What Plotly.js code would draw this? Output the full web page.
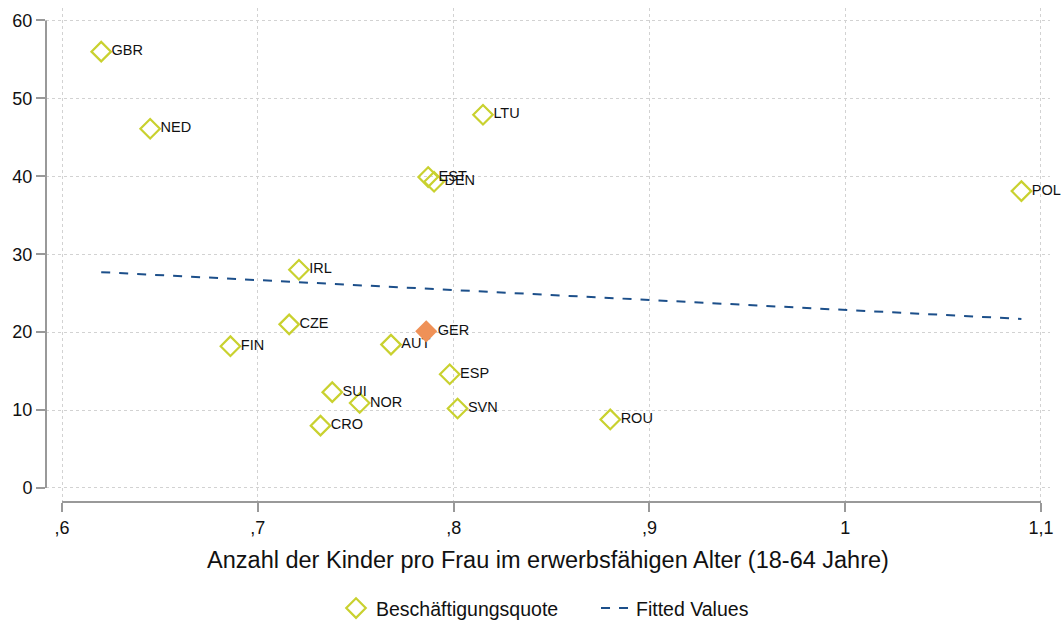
<!DOCTYPE html>
<html><head><meta charset="utf-8">
<script src="https://cdn.plot.ly/plotly-3.0.1.min.js"></script>
<style>body{margin:0;background:#fff}#c{width:1062px;height:624px}</style>
</head><body><div id="c"></div>
<script>
const countries = ["GBR","NED","LTU","EST","DEN","POL","IRL","CZE","FIN","AUT","ESP","SUI","NOR","SVN","ROU","CRO"];
const kids =      [0.620,0.645,0.815,0.787,0.790,1.090,0.721,0.716,0.686,0.768,0.798,0.738,0.752,0.802,0.880,0.732];
const quote =     [56.0, 46.1, 47.9, 39.9, 39.3, 38.1, 28.0, 21.0, 18.2, 18.4, 14.6, 12.3, 10.9, 10.2, 8.8, 8.0];
const gerName = ["GER"];
const gerKids = [0.786];
const gerQuote = [20.1];
const fitX = [0.620, 1.090];
const fitY = [27.7, 21.7];
const xTicks = [0.6,0.7,0.8,0.9,1.0,1.1];
const xTickText = [",6",",7",",8",",9","1","1,1"];
const yTicks = [0,10,20,30,40,50,60];

const font = "Liberation Sans, Arial, sans-serif";
const traces = [
  {x: kids, y: quote, text: countries, mode: "markers+text", type: "scatter",
   name: "Beschäftigungsquote", textposition: "middle right",
   textfont: {family: font, size: 14.5, color: "#111"},
   marker: {symbol: "diamond-open", size: 15, color: "#c9d12f", line: {width: 2.2, color: "#c9d12f"}},
   cliponaxis: false},
  {x: gerKids, y: gerQuote, text: gerName, mode: "markers+text", type: "scatter",
   showlegend: false, textposition: "middle right",
   textfont: {family: font, size: 14.5, color: "#111"},
   marker: {symbol: "diamond", size: 17, color: "#ef9157", line: {width: 0}}, cliponaxis: false},
  {x: fitX, y: fitY, mode: "lines", type: "scatter", name: "Fitted Values",
   line: {color: "#1c4f8a", width: 2, dash: "dash"}}
];
const layout = {
  width: 1062, height: 624,
  margin: {l: 46, r: 12, t: 8, b: 122, autoexpand: false},
  paper_bgcolor: "#fff", plot_bgcolor: "#fff",
  font: {family: font, color: "#111"},
  showlegend: true,
  legend: {orientation: "h", x: 0.3164, xanchor: "left", xref: "container",
           y: 0.025, yanchor: "middle", yref: "container",
           entrywidth: 215, entrywidthmode: "pixels",
           font: {family: font, size: 19.5}, itemwidth: 30, traceorder: "normal"},
  xaxis: {range: [0.5918, 1.1046], tickvals: xTicks, ticktext: xTickText, automargin: false,
          showline: false, zeroline: false, ticks: "outside", ticklen: 9, tickwidth: 1.5, tickcolor: "#999",
          showgrid: true, gridcolor: "#d2d2d2", griddash: "dot", gridwidth: 1,
          tickfont: {size: 18, family: font, color: "#111"},
          title: {text: "Anzahl der Kinder pro Frau im erwerbsfähigen Alter (18-64 Jahre)",
                  font: {size: 23.5, family: font, color: "#111"}, standoff: 14}},
  yaxis: {range: [-1.8, 61.6], tickvals: yTicks, automargin: false,
          showline: false, zeroline: false, ticks: "outside", ticklen: 9, tickwidth: 1.5, tickcolor: "#999",
          showgrid: true, gridcolor: "#d2d2d2", griddash: "dot", gridwidth: 1,
          tickfont: {size: 18, family: font, color: "#111"}},
  shapes: [
    {type: "line", xref: "x", yref: "paper", x0: 0.6, x1: 1.1, y0: 0, y1: 0, line: {color: "#999", width: 2}},
    {type: "line", xref: "paper", yref: "y", x0: 0, x1: 0, y0: 0, y1: 60, line: {color: "#999", width: 2}}
  ]
};
Plotly.newPlot("c", traces, layout, {displayModeBar: false});
</script></body></html>
